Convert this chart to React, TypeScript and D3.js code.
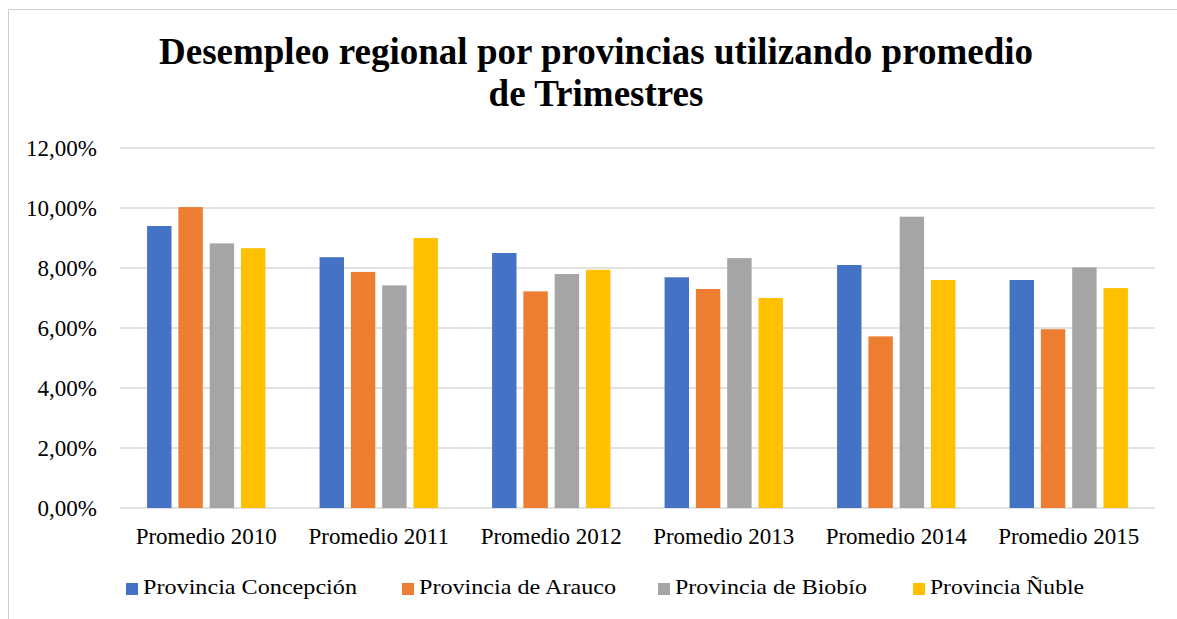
import React from 'react';
import * as d3 from 'd3';

const categories = ['Promedio 2010', 'Promedio 2011', 'Promedio 2012', 'Promedio 2013', 'Promedio 2014', 'Promedio 2015'];
const seriesNames = ['Provincia Concepción', 'Provincia de Arauco', 'Provincia de Biobío', 'Provincia Ñuble'];
const concepcion = [9.4, 8.36, 8.5, 7.69, 8.1, 7.6];
const arauco = [10.03, 7.87, 7.22, 7.3, 5.72, 5.96];
const biobio = [8.82, 7.42, 7.8, 8.33, 9.71, 8.02];
const nuble = [8.66, 9.0, 7.94, 7.0, 7.6, 7.33];
const yTicks = [0, 2, 4, 6, 8, 10, 12];
const titleLines = ['Desempleo regional por provincias utilizando promedio', 'de Trimestres'];

const colors = ['#4472C4', '#ED7D31', '#A5A5A5', '#FFC000'];
const seriesValues = [concepcion, arauco, biobio, nuble];

const W = 1177;
const H = 619;
const FONT = '"Liberation Serif", "Times New Roman", serif';

// legend layout (x of square, text width)
const legendX = [126, 402, 658, 913];
const legendW = [214, 197, 192, 154];

const App = () => {
  const margin = { left: 120, right: 22, top: 148, bottom: 111 };
  const plotW = W - margin.left - margin.right;
  const plotH = H - margin.top - margin.bottom;

  const x0 = d3.scaleBand<string>().domain(categories).range([margin.left, margin.left + plotW]).padding(0);
  const groupPad = x0.bandwidth() * 0.157;
  const x1 = d3.scaleBand<string>()
    .domain(seriesNames)
    .range([groupPad, x0.bandwidth() - groupPad])
    .paddingInner(0.22)
    .paddingOuter(0);
  const y = d3.scaleLinear().domain([0, 12]).range([margin.top + plotH, margin.top]);

  const fmt = (v: number) => v.toFixed(2).replace('.', ',') + '%';

  return (
    <svg width={W} height={H} style={{ position: 'absolute', left: 0, top: 0, background: '#fff' }} fontFamily={FONT}>
      <rect x={8.5} y={9.5} width={1300} height={700} fill="#fff" stroke="#d0d0d0" strokeWidth={1} />
      <text textAnchor="middle" fontWeight="bold" fontSize={37} fill="#000">
        {titleLines.map((t, i) => (
          <tspan key={i} x={596} y={64 + i * 42}>{t}</tspan>
        ))}
      </text>

      {yTicks.map((t) => (
        <g key={t}>
          <line x1={margin.left} x2={margin.left + plotW} y1={y(t)} y2={y(t)} stroke="#d9d9d9" strokeWidth={1.5} />
          <text x={97} y={y(t) + 7.5} textAnchor="end" fontSize={23} fill="#000">{fmt(t)}</text>
        </g>
      ))}

      {categories.map((c, ci) => (
        <g key={c} transform={`translate(${x0(c)},0)`}>
          {seriesNames.map((s, si) => {
            const v = seriesValues[si][ci];
            return (
              <rect key={s} x={x1(s)} y={y(v)} width={x1.bandwidth()} height={y(0) - y(v)} fill={colors[si]} />
            );
          })}
          <text x={x0.bandwidth() / 2} y={544} textAnchor="middle" fontSize={23} fill="#000">{c}</text>
        </g>
      ))}

      {seriesNames.map((s, i) => (
        <g key={s}>
          <rect x={legendX[i]} y={583} width={12} height={12} fill={colors[i]} />
          <text x={legendX[i] + 17} y={594} fontSize={22} fill="#000" textLength={legendW[i]} lengthAdjust="spacingAndGlyphs">{s}</text>
        </g>
      ))}
    </svg>
  );
};

export default App;
